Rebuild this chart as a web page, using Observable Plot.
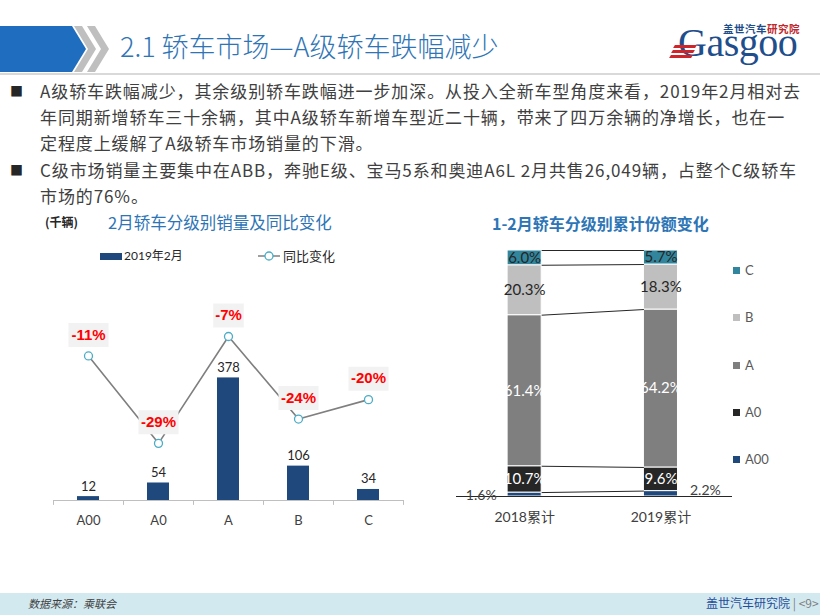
<!DOCTYPE html>
<html><head><meta charset="utf-8">
<script src="https://cdn.jsdelivr.net/npm/d3@7"></script>
<script src="https://cdn.jsdelivr.net/npm/@observablehq/plot@0.6"></script>
<style>
body{margin:0;width:820px;height:615px;position:relative;overflow:hidden;background:#fff;font-family:"Noto Sans CJK SC","Noto Sans",sans-serif;}
.abs{position:absolute;white-space:nowrap;}
.line{position:absolute;left:40px;font-size:17px;letter-spacing:0.9px;color:#404040;line-height:26px;height:26px;white-space:nowrap;}
.bullet{position:absolute;left:10px;font-size:13px;color:#262626;line-height:26px;}
.lg{position:absolute;left:733px;font-size:13px;color:#595959;font-family:Lato,"Noto Sans",sans-serif;line-height:16px;}
.lg i{display:inline-block;width:7px;height:7px;margin-right:5px;vertical-align:1px;}
</style></head><body>
<!-- header -->
<svg class="abs" style="left:0;top:0" width="120" height="80">
  <polygon points="0,26 72,26 86,49 72,72 0,72" fill="#1f6dbf"/>
  <polygon points="74,26 82,26 96,49 82,72 74,72 88,49" fill="#bfbfbf"/>
  <polygon points="87,26 95,26 109,49 95,72 87,72 101,49" fill="#bfbfbf"/>
</svg>
<div class="abs" style="left:120px;top:27px;font-size:27px;line-height:38px;color:#2f75b5;font-weight:300;">2.1 轿车市场—A级轿车跌幅减少</div>
<div class="abs" style="left:0;top:73px;width:820px;height:2px;background:#d9d9d9"></div>
<!-- logo -->
<div class="abs" style="left:723px;top:22px;font-size:10.5px;line-height:13px;font-weight:700;color:#1f4e8c;letter-spacing:0.5px">盖世汽车<span style="color:#c0282d">研究院</span></div>
<div class="abs" style="left:678px;top:23px;font-family:'Liberation Serif',serif;font-size:40px;line-height:40px;color:#1f4e8c;letter-spacing:-0.5px">Gasgoo</div>
<div class="abs" style="left:674px;top:45px;width:22px;height:3px;background:#d0242b;transform:skewX(-30deg)"></div>
<div class="abs" style="left:672px;top:50px;width:22px;height:3px;background:#d0242b;transform:skewX(-30deg)"></div>
<div class="abs" style="left:670px;top:55px;width:22px;height:3px;background:#d0242b;transform:skewX(-30deg)"></div>
<!-- body text -->
<div class="bullet" style="top:78px">■</div>
<div class="line" style="top:78px">A级轿车跌幅减少，其余级别轿车跌幅进一步加深。从投入全新车型角度来看，2019年2月相对去</div>
<div class="line" style="top:104px">年同期新增轿车三十余辆，其中A级轿车新增车型近二十辆，带来了四万余辆的净增长，也在一</div>
<div class="line" style="top:130px">定程度上缓解了A级轿车市场销量的下滑。</div>
<div class="bullet" style="top:157px">■</div>
<div class="line" style="top:157px">C级市场销量主要集中在ABB，奔驰E级、宝马5系和奥迪A6L 2月共售26,049辆，占整个C级轿车</div>
<div class="line" style="top:183px">市场的76%。</div>
<!-- left chart titles -->
<div class="abs" style="left:45px;top:213px;font-size:12px;line-height:18px;font-weight:700;color:#262626">(千辆)</div>
<div class="abs" style="left:108px;top:211px;font-size:16.5px;line-height:22px;color:#2e75b6">2月轿车分级别销量及同比变化</div>
<div class="abs" style="left:100px;top:253px;width:22px;height:7px;background:#1f497d"></div>
<div class="abs" style="left:124px;top:248px;font-size:12px;line-height:16px;color:#262626;font-family:Lato,'Noto Sans CJK SC',sans-serif">2019年2月</div>
<svg class="abs" style="left:256px;top:248px" width="26" height="16"><line x1="2" y1="8" x2="24" y2="8" stroke="#7f7f7f" stroke-width="1.5"/><circle cx="13" cy="8" r="4" fill="#fff" stroke="#4bacc6" stroke-width="1.3"/></svg>
<div class="abs" style="left:283px;top:247px;font-size:13px;line-height:17px;color:#262626">同比变化</div>
<!-- right chart title -->
<div class="abs" style="left:492px;top:212px;font-size:16px;line-height:22px;font-weight:700;color:#2e75b6">1-2月轿车分级别累计份额变化</div>
<div id="left" class="abs" style="left:40px;top:270px"></div>
<div id="leftLine" class="abs" style="left:40px;top:270px"></div>
<div id="right" class="abs" style="left:440px;top:240px"></div>
<div id="legend"></div>
<!-- footer -->
<div class="abs" style="left:0;top:593px;width:820px;height:22px;background:#d3e9f0"></div>
<div class="abs" style="left:28px;top:594px;font-size:11px;line-height:18px;font-style:italic;color:#404040">数据来源：乘联会</div>
<div class="abs" style="left:706px;top:594px;font-size:12px;line-height:18px;color:#1f4e9c">盖世汽车研究院 <span style="color:#7f7f7f">| &lt;9&gt;</span></div>
<script>
// ---------- data ----------
const grades = ["A00", "A0", "A", "B", "C"];
const sales2019Feb = [12, 54, 378, 106, 34];       // 千辆
const yoyChange = [-11, -29, -7, -24, -20];          // %
const shareYears = ["2018累计", "2019累计"];
const share2018 = [1.6, 10.7, 61.4, 20.3, 6.0];      // % by grade
const share2019 = [2.2, 9.6, 64.2, 18.3, 5.7];
const gradeColors = ["#1f497d", "#262626", "#7f7f7f", "#bfbfbf", "#31859c"];
const legendOrder = ["C", "B", "A", "A0", "A00"];

const font = "Lato, 'Noto Sans CJK SC', sans-serif";

// ---------- left chart: bars ----------
const barData = grades.map((g, i) => ({grade: g, value: sales2019Feb[i], pct: yoyChange[i]}));
const W = 375, ML = 13, MR = 12;
const halfStep = (W - ML - MR) / grades.length / 2;
const xBand = {type: "band", domain: grades, paddingInner: 0.686, paddingOuter: 0.343};

const left = Plot.plot({
  width: W, height: 260, marginLeft: ML, marginRight: MR, marginTop: 3, marginBottom: 30,
  style: {fontFamily: font, fontSize: "13px", color: "#404040", background: "transparent"},
  x: {...xBand, tickSize: 0, tickPadding: 15, label: null},
  y: {domain: [0, 700], axis: null},
  marks: [
    Plot.barY(barData, {x: "grade", y: "value", fill: "#1f497d"}),
    Plot.ruleY([0], {stroke: "#bfbfbf", strokeWidth: 1.2}),
    Plot.ruleX(barData, {x: "grade", y1: 0, y2: -15, dx: -halfStep, stroke: "#bfbfbf"}),
    Plot.ruleX(barData.slice(-1), {x: "grade", y1: 0, y2: -15, dx: halfStep, stroke: "#bfbfbf"}),
    Plot.text(barData, {x: "grade", y: "value", text: d => String(d.value), dy: -6, lineAnchor: "bottom", fill: "#262626", fontSize: 13})
  ]
});
document.getElementById("left").appendChild(left);

// ---------- left chart: YoY line overlay ----------
const boxSymbol = {draw(ctx, size) {
  const n = Math.sqrt(size / Math.PI);
  const w = n * 9.5 + 2, h = 24;
  ctx.moveTo(-w / 2, -h / 2); ctx.lineTo(w / 2, -h / 2); ctx.lineTo(w / 2, h / 2); ctx.lineTo(-w / 2, h / 2); ctx.closePath();
}};
const lineChart = Plot.plot({
  width: W, height: 260, marginLeft: ML, marginRight: MR, marginTop: 32, marginBottom: 58,
  style: {fontFamily: font, background: "transparent"},
  x: {...xBand, axis: null},
  y: {domain: [-35, 0], axis: null},
  r: {type: "identity"},
  marks: [
    Plot.line(barData, {x: "grade", y: "pct", stroke: "#7f7f7f", strokeWidth: 1.6}),
    Plot.dot(barData, {x: "grade", y: "pct", symbol: boxSymbol, r: d => (d.pct + "%").length, fill: "#f2f2f2", dy: -21}),
    Plot.text(barData, {x: "grade", y: "pct", text: d => d.pct + "%", dy: -21, fill: "#ff0000", fontWeight: "bold", fontSize: 15, fontFamily: "'Liberation Sans', Arial, sans-serif"}),
    Plot.dot(barData, {x: "grade", y: "pct", r: 4, fill: "#fff", stroke: "#4bacc6", strokeWidth: 1.3})
  ]
});
document.getElementById("leftLine").appendChild(lineChart);

// ---------- right chart: 100% stacked ----------
const shares = [share2018, share2019];
const barGap = 4; // bar slots in x units (bar width = 1)
const shareData = [];
shareYears.forEach((yr, j) => grades.forEach((g, i) => shareData.push({
  year: yr, j, grade: g, value: shares[j][i], x1: j * barGap, x2: j * barGap + 1, xc: j * barGap + 0.5
})));
const bounds = grades.map((g, i) => ({
  a: d3.sum(share2018.slice(0, i + 1)),
  b: d3.sum(share2019.slice(0, i + 1))
}));
const fmt = d => d.value.toFixed(1) + "%";
const right = Plot.plot({
  width: 380, height: 290, marginLeft: 16, marginRight: 88, marginTop: 10, marginBottom: 34,
  style: {fontFamily: font, background: "transparent"},
  x: {domain: [-1.5, 6.6], axis: null},
  y: {domain: [0, 100], axis: null},
  color: {domain: grades, range: gradeColors},
  marks: [
    Plot.rectY(shareData, {x1: "x1", x2: "x2", y: "value", fill: "grade", stroke: "#ffffff", strokeWidth: 1}),
    Plot.link(bounds, {x1: () => 1, x2: () => barGap, y1: "a", y2: "b", stroke: "#262626", strokeWidth: 1}),
    Plot.ruleY([0], {stroke: "#262626", strokeWidth: 1}),
    Plot.text(shareData, Plot.stackY({x: "xc", y: "value", z: "grade",
      text: d => (d.grade === "B" || d.grade === "C") ? fmt(d) : null, fill: "#262626", fontSize: 15})),
    Plot.text(shareData, Plot.stackY({x: "xc", y: "value", z: "grade",
      text: d => (d.grade === "A" || d.grade === "A0") ? fmt(d) : null, fill: "#ffffff", fontSize: 15})),
    Plot.text(shareData.filter(d => d.grade === "A00" && d.j === 0), {x: "x1", y: 0, text: fmt, textAnchor: "end", dx: -11, dy: -1, fill: "#404040", fontSize: 14}),
    Plot.text(shareData.filter(d => d.grade === "A00" && d.j === 1), {x: "x2", y: 0, text: fmt, textAnchor: "start", dx: 12, dy: -6, fill: "#404040", fontSize: 14}),
    Plot.text(shareYears.map((yr, j) => ({yr, xc: j * barGap + 0.5})), {x: "xc", y: 0, text: "yr", dy: 21, fill: "#404040", fontSize: 14})
  ]
});
document.getElementById("right").appendChild(right);

// legend (right chart)
const lg = document.getElementById("legend");
legendOrder.forEach((g, k) => {
  const el = document.createElement("div");
  el.className = "lg";
  el.style.top = (262 + k * 47.3) + "px";
  el.innerHTML = `<i style="background:${gradeColors[grades.indexOf(g)]}"></i>${g}`;
  lg.appendChild(el);
});
</script>
</body></html>
